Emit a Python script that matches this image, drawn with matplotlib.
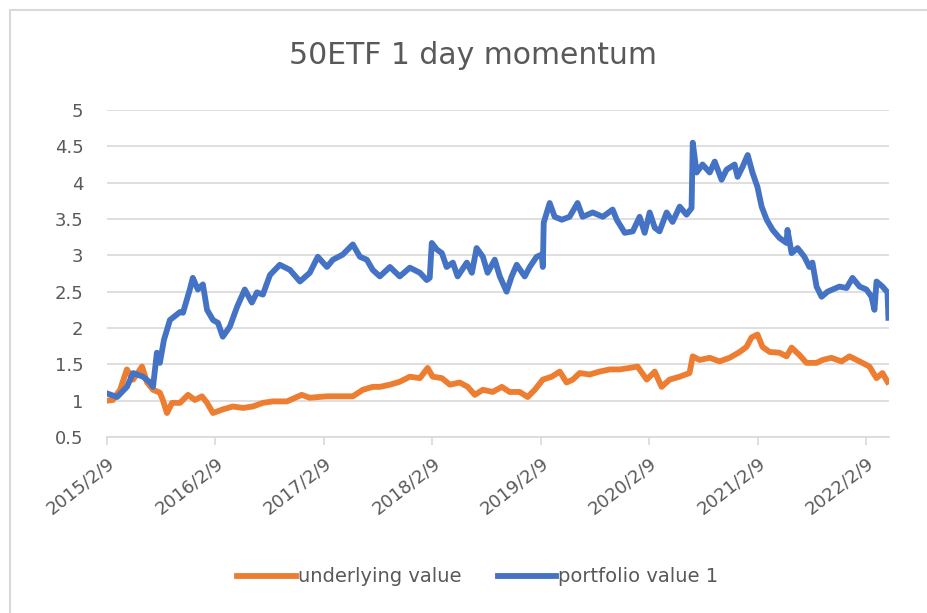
import pandas as pd
import matplotlib.pyplot as plt
from matplotlib.patches import Rectangle

# ==================== 数据 ====================
portfolio_dates = [
    '2015-02-09', '2015-03-15', '2015-04-17', '2015-05-08', '2015-06-10', '2015-07-04',
    '2015-07-14', '2015-07-27', '2015-08-06', '2015-08-20', '2015-09-09', '2015-10-13',
    '2015-10-23', '2015-11-15', '2015-11-25', '2015-12-12', '2015-12-29', '2016-01-12',
    '2016-02-01', '2016-02-18', '2016-03-05', '2016-03-29', '2016-04-22', '2016-05-18',
    '2016-06-11', '2016-06-28', '2016-07-18', '2016-08-11', '2016-09-13', '2016-10-17',
    '2016-11-20', '2016-12-23', '2017-01-19', '2017-02-19', '2017-03-11', '2017-04-13',
    '2017-05-17', '2017-06-10', '2017-07-03', '2017-07-23', '2017-08-16', '2017-09-19',
    '2017-10-22', '2017-11-25', '2017-12-29', '2018-01-21', '2018-01-31', '2018-02-07',
    '2018-02-24', '2018-03-13', '2018-03-29', '2018-04-19', '2018-05-05', '2018-06-05',
    '2018-06-22', '2018-07-08', '2018-07-29', '2018-08-14', '2018-09-07', '2018-09-24',
    '2018-10-17', '2018-11-03', '2018-11-20', '2018-12-17', '2019-01-03', '2019-01-26',
    '2019-02-12', '2019-02-16', '2019-02-19', '2019-03-11', '2019-03-28', '2019-04-21',
    '2019-05-17', '2019-06-13', '2019-06-30', '2019-08-03', '2019-09-06', '2019-10-09',
    '2019-10-23', '2019-11-19', '2019-12-16', '2020-01-08', '2020-01-25', '2020-02-11',
    '2020-02-28', '2020-03-15', '2020-04-08', '2020-04-28', '2020-05-22', '2020-06-14',
    '2020-07-01', '2020-07-05', '2020-07-18', '2020-08-07', '2020-08-31', '2020-09-17',
    '2020-10-10', '2020-10-27', '2020-11-23', '2020-12-03', '2020-12-20', '2021-01-06',
    '2021-01-22', '2021-02-08', '2021-02-22', '2021-03-11', '2021-03-31', '2021-04-23',
    '2021-05-17', '2021-05-20', '2021-06-03', '2021-06-23', '2021-07-16', '2021-08-02',
    '2021-08-12', '2021-08-26', '2021-09-12', '2021-10-02', '2021-11-11', '2021-12-05',
    '2021-12-25', '2022-01-18', '2022-02-10', '2022-02-27', '2022-03-09', '2022-03-16',
    '2022-04-05', '2022-04-22', '2022-04-25',
]
portfolio_values = [
    1.10, 1.05, 1.19, 1.38, 1.33, 1.25,
    1.19, 1.66, 1.52, 1.84, 2.11, 2.22,
    2.21, 2.53, 2.69, 2.53, 2.60, 2.25,
    2.11, 2.07, 1.88, 2.02, 2.29, 2.53,
    2.35, 2.49, 2.46, 2.73, 2.87, 2.80,
    2.64, 2.76, 2.98, 2.84, 2.94, 3.01,
    3.15, 2.98, 2.94, 2.80, 2.71, 2.84,
    2.71, 2.83, 2.76, 2.66, 2.69, 3.17,
    3.08, 3.03, 2.84, 2.90, 2.71, 2.90,
    2.76, 3.10, 2.98, 2.76, 2.94, 2.71,
    2.50, 2.71, 2.87, 2.71, 2.84, 2.98,
    3.01, 2.84, 3.45, 3.72, 3.53, 3.49,
    3.53, 3.72, 3.53, 3.59, 3.53, 3.63,
    3.49, 3.31, 3.33, 3.53, 3.31, 3.59,
    3.38, 3.33, 3.59, 3.46, 3.67, 3.56,
    3.65, 4.55, 4.14, 4.25, 4.14, 4.29,
    4.04, 4.18, 4.25, 4.08, 4.22, 4.38,
    4.14, 3.94, 3.67, 3.49, 3.35, 3.24,
    3.17, 3.35, 3.03, 3.10, 2.98, 2.84,
    2.90, 2.57, 2.43, 2.50, 2.57, 2.55,
    2.69, 2.57, 2.53, 2.43, 2.25, 2.64,
    2.57, 2.49, 2.14,
]

underlying_dates = [
    '2015-02-09', '2015-03-01', '2015-03-25', '2015-04-17', '2015-05-08', '2015-06-07',
    '2015-06-24', '2015-07-14', '2015-08-06', '2015-08-16', '2015-08-30', '2015-09-16',
    '2015-10-13', '2015-11-09', '2015-12-02', '2015-12-26', '2016-01-12', '2016-02-01',
    '2016-03-05', '2016-04-08', '2016-05-12', '2016-06-14', '2016-07-18', '2016-08-21',
    '2016-10-07', '2016-11-26', '2016-12-23', '2017-02-19', '2017-04-13', '2017-05-17',
    '2017-06-20', '2017-07-23', '2017-08-16', '2017-09-19', '2017-10-22', '2017-11-25',
    '2017-12-29', '2018-01-24', '2018-02-10', '2018-03-13', '2018-04-09', '2018-05-12',
    '2018-06-08', '2018-07-02', '2018-07-29', '2018-08-31', '2018-10-01', '2018-10-27',
    '2018-11-30', '2018-12-27', '2019-01-20', '2019-02-16', '2019-03-18', '2019-04-14',
    '2019-05-07', '2019-05-28', '2019-06-20', '2019-07-24', '2019-08-26', '2019-09-29',
    '2019-11-02', '2019-12-05', '2020-01-01', '2020-02-01', '2020-02-28', '2020-03-22',
    '2020-04-18', '2020-05-22', '2020-06-24', '2020-07-05', '2020-07-28', '2020-08-31',
    '2020-10-03', '2020-11-06', '2020-12-10', '2021-01-02', '2021-01-19', '2021-02-08',
    '2021-02-25', '2021-03-21', '2021-04-23', '2021-05-17', '2021-06-03', '2021-06-29',
    '2021-07-23', '2021-08-26', '2021-09-15', '2021-10-15', '2021-11-18', '2021-12-15',
    '2022-01-18', '2022-02-20', '2022-03-16', '2022-04-05', '2022-04-22',
]
underlying_values = [
    1.00, 1.01, 1.15, 1.43, 1.29, 1.47,
    1.25, 1.15, 1.11, 1.01, 0.83, 0.97,
    0.97, 1.08, 1.01, 1.06, 0.97, 0.83,
    0.88, 0.92, 0.90, 0.92, 0.97, 0.99,
    0.99, 1.08, 1.04, 1.06, 1.06, 1.06,
    1.15, 1.19, 1.19, 1.22, 1.26, 1.33,
    1.31, 1.45, 1.33, 1.31, 1.22, 1.25,
    1.19, 1.08, 1.15, 1.12, 1.19, 1.12,
    1.12, 1.05, 1.15, 1.29, 1.33, 1.40,
    1.25, 1.29, 1.38, 1.36, 1.40, 1.43,
    1.43, 1.45, 1.47, 1.29, 1.40, 1.19,
    1.29, 1.33, 1.38, 1.61, 1.56, 1.59,
    1.54, 1.59, 1.67, 1.74, 1.87, 1.91,
    1.74, 1.67, 1.66, 1.61, 1.73, 1.63,
    1.52, 1.52, 1.56, 1.59, 1.54, 1.61,
    1.54, 1.47, 1.31, 1.38, 1.26,
]

tick_dates = ['2015-02-09', '2016-02-09', '2017-02-09', '2018-02-09',
              '2019-02-09', '2020-02-09', '2021-02-09', '2022-02-09']
tick_labels = ['2015/2/9', '2016/2/9', '2017/2/9', '2018/2/9',
               '2019/2/9', '2020/2/9', '2021/2/9', '2022/2/9']

# ==================== 绘图 ====================
plt.rcParams['font.family'] = ['DejaVu Sans']
TEXT = '#595959'
GRID = '#D9D9D9'

fig = plt.figure(figsize=(9.28, 6.13), dpi=100)
# 外框（只露出上边和左边）
fig.patches.append(Rectangle((10 / 928, -0.01), 1.0, 1 - 10 / 613 + 0.01,
                             transform=fig.transFigure, fill=False,
                             edgecolor=GRID, linewidth=1.5))

ax = fig.add_axes([107 / 928, 1 - 437 / 613, (889 - 107) / 928, (437 - 110) / 613])

ax.plot(pd.to_datetime(underlying_dates), underlying_values,
        color='#ED7D31', linewidth=4.2, label='underlying value')
ax.plot(pd.to_datetime(portfolio_dates), portfolio_values,
        color='#4472C4', linewidth=4.2, label='portfolio value 1')

ax.set_ylim(0.5, 5)
ax.set_yticks([0.5, 1, 1.5, 2, 2.5, 3, 3.5, 4, 4.5, 5])
ax.set_yticklabels(['0.5', '1', '1.5', '2', '2.5', '3', '3.5', '4', '4.5', '5'])
ax.set_xlim(pd.Timestamp('2015-02-09'), pd.Timestamp('2022-04-27'))
ax.set_xticks(pd.to_datetime(tick_dates))
ax.set_xticklabels(tick_labels, rotation=38, ha='right', va='top',
                   rotation_mode='anchor')

ax.grid(axis='y', color=GRID, linewidth=1.2)
ax.set_axisbelow(True)
for side in ['top', 'right', 'left']:
    ax.spines[side].set_visible(False)
ax.spines['bottom'].set_color(GRID)
ax.spines['bottom'].set_linewidth(1.2)
ax.tick_params(axis='y', length=0, pad=17, labelsize=13, labelcolor=TEXT)
ax.tick_params(axis='x', length=6, color=GRID, width=1.2, pad=6,
               labelsize=13, labelcolor=TEXT)

fig.text(473 / 928, 1 - 55 / 613, '50ETF 1 day momentum', ha='center', va='center',
         fontsize=21.5, color=TEXT)

fig.legend(loc='center', bbox_to_anchor=(478 / 928, 1 - 577 / 613), ncol=2,
           frameon=False, fontsize=14, labelcolor=TEXT, handlelength=3.0,
           handletextpad=0.1, columnspacing=1.9)

fig.savefig('out.png', dpi=100)
